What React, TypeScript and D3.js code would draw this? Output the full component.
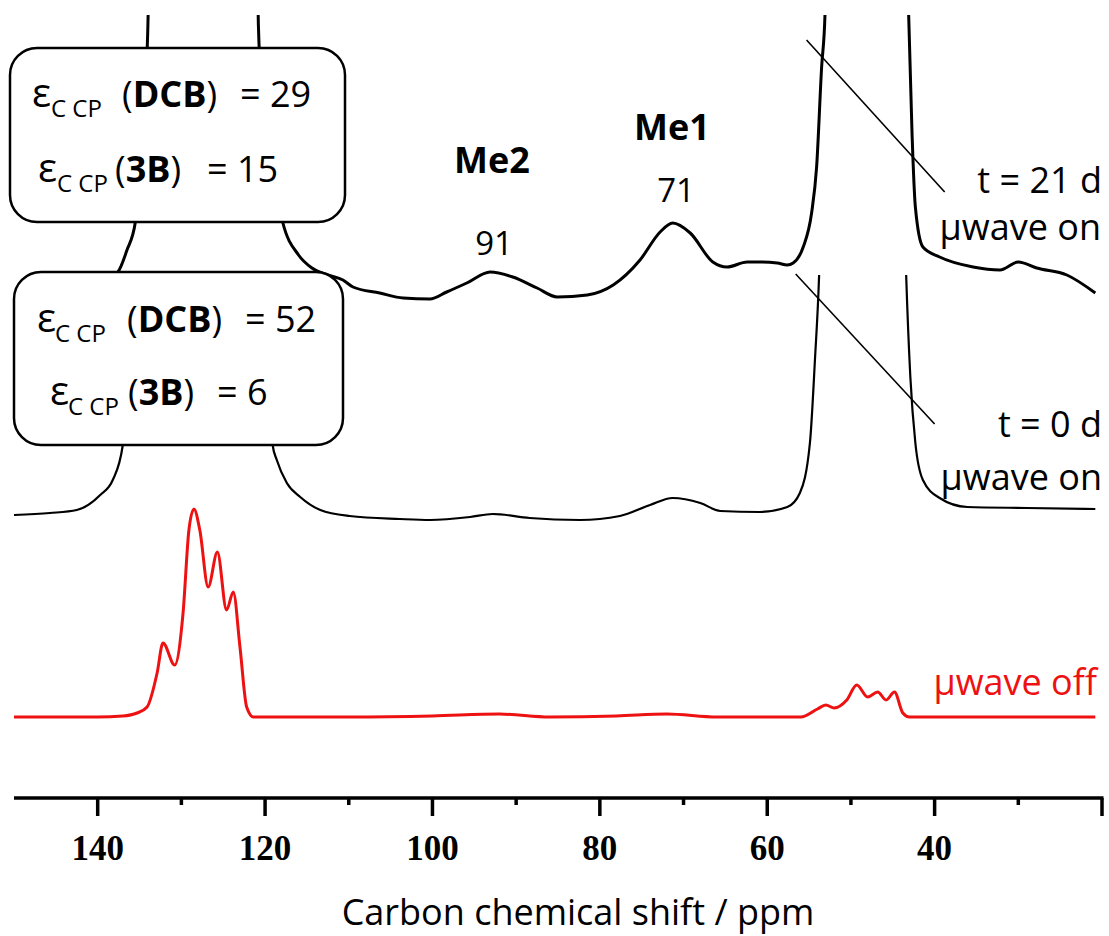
import React from "react";
import * as d3 from "d3";

const width = 1109;
const height = 936;

// axis
const ppmDomain = [150, 20];
const majorTicks = [140, 120, 100, 80, 60, 40, 20];
const tickLabels = ["140", "120", "100", "80", "60", "40", ""];
const minorTicks = [130, 110, 90, 70, 50, 30];

// vertical stacking offsets of the spectra (a.u.)
const offsets = { off: 0, day0: 40, day21: 84 };

// [ppm, intensity a.u.]  -- t = 21 d, uwave on
const day21 = [
  [150, 0.8], [145, 1.2], [141, 3], [139, 4.4], [137.6, 5.6], [136.5, 10], [135.5, 15.6],
  [134.6, 35], [134.0, 55], [133.7, 80], [121.0, 80], [120.8, 55], [120.3, 40], [119, 25],
  [117.9, 15.6], [116, 9], [114.4, 6.4], [112.5, 5], [110.7, 4], [109.5, 2.6], [106.3, 1.4],
  [103.5, 0.4], [100.3, 0.2], [98.3, 1.6], [95.9, 3.4], [93.1, 5.6], [90.4, 4.6], [87.5, 2.4],
  [85.1, 0.6], [81.5, 1], [78.4, 3], [75.2, 8], [72.8, 13.6], [71.3, 15.4], [69.2, 13.4],
  [66.5, 7.6], [64.8, 6.6], [62.4, 7.6], [60.9, 7.6], [58.8, 7.4], [57.6, 7], [56.9, 7.4],
  [55.7, 10.6], [54.7, 17.4], [54.1, 26.6], [53.5, 46.6], [53.1, 57], [52.8, 80], [43.4, 80],
  [43.1, 57], [42.7, 33.4], [42.3, 18.6], [41.4, 10.6], [39.4, 8.6], [35.4, 6.6], [32.2, 6],
  [30, 7.6], [27.8, 6.4], [24.2, 5], [20.8, 1.4],
];

// t = 0 d, uwave on
const day0 = [
  [150, 1], [145.7, 1.4], [142.5, 2], [139.7, 5], [138.2, 8], [137.0, 15], [136.2, 28],
  [135.6, 48], [135.3, 60], [120.6, 60], [120.0, 40], [119.4, 22], [119.1, 15], [118.6, 12],
  [117.4, 7.4], [115.8, 4.6], [113.4, 2], [109.9, 0.8], [103.9, 0.2], [100.3, 0], [95.5, 0.6],
  [92.8, 1.2], [88.4, 0.4], [82.4, 0], [77.6, 0.8], [74, 3], [71.3, 4.4], [68, 3.4],
  [65.6, 1.8], [60.9, 1.6], [57.6, 2.6], [56.1, 5.4], [54.9, 15.4], [54.3, 32], [53.8, 49],
  [53.6, 60], [43.6, 60], [43.4, 49], [42.9, 28.6], [42.3, 15.4], [41.4, 8], [39.4, 4.4],
  [36.1, 2.6], [29, 2.4], [20.8, 2.2],
];

// uwave off
const mwOff = [
  [150, 0.6], [140, 0.6], [137, 0.8], [135.3, 1.4], [134.1, 2.6], [132.9, 9.4], [132.2, 15.4],
  [130.8, 11], [129.8, 21.4], [129.1, 38], [128.5, 42.2], [127.8, 38], [126.8, 26.6],
  [125.7, 33.6], [124.6, 22], [123.8, 25.6], [123.0, 14.6], [122.2, 2.6], [121.4, 0.6],
  [110, 0.6], [100, 0.8], [92, 1.2], [86, 0.6], [78, 0.8], [72, 1.2], [66, 0.6], [56, 0.6],
  [54, 2.2], [53, 3], [52, 2.4], [50.5, 4], [49.3, 7], [48, 4.6], [46.8, 5.6], [45.8, 4],
  [44.8, 5.6], [43.8, 1.4], [43, 0.6], [30, 0.6], [20.8, 0.6],
];

// leader lines [ppm, a.u.]
const leader21 = [[55.3, 136], [38.8, 105.6]];
const leader0 = [[56.6, 89.2], [40.0, 59.2]];

const sans = "'Open Sans', 'DejaVu Sans', sans-serif";

const x = d3.scaleLinear().domain(ppmDomain).range([14, 1102]);
const y = d3.scaleLinear().domain([0, 141]).range([720, 15]);
const axisY = 798;

const lineFor = (offset: number) =>
  d3
    .line<number[]>()
    .x((d) => x(d[0]))
    .y((d) => y(d[1] + offset))
    .curve(d3.curveMonotoneX);

const EpsLine = ({ ex, sx, by, paren, val, px, vx }: any) => (
  <text fontFamily={sans} fill="#000">
    <tspan x={ex} y={by} fontSize={40}>ε</tspan>
    <tspan x={sx} y={by + 10} fontSize={24}>C CP</tspan>
    <tspan x={px} y={by} fontSize={36}>(</tspan>
    <tspan fontSize={36} fontWeight="bold">{paren}</tspan>
    <tspan fontSize={36}>)</tspan>
    <tspan x={vx} y={by} fontSize={36}>{val}</tspan>
  </text>
);

export default function App() {
  const l = (offset: number) => lineFor(offset);
  return (
    <svg
      width={width}
      height={height}
      style={{ position: "absolute", left: 0, top: 0, background: "#fff" }}
    >
      <defs>
        <clipPath id="clip21">
          <rect x={0} y={15} width={width} height={height} />
        </clipPath>
        <clipPath id="clip0">
          <rect x={0} y={275} width={width} height={height} />
        </clipPath>
      </defs>
      <rect width={width} height={height} fill="#fff" />

      {/* spectra */}
      <path d={l(offsets.off)(mwOff) as string} fill="none" stroke="#ee1111" strokeWidth={3} />
      <path
        d={l(offsets.day0)(day0) as string}
        fill="none"
        stroke="#000"
        strokeWidth={2.2}
        clipPath="url(#clip0)"
      />
      <path
        d={l(offsets.day21)(day21) as string}
        fill="none"
        stroke="#000"
        strokeWidth={3}
        clipPath="url(#clip21)"
      />

      {/* boxes */}
      <rect x={10} y={48} width={335} height={174} rx={27} fill="#fff" stroke="#000" strokeWidth={2.5} />
      <rect x={14} y={272} width={329} height={173} rx={27} fill="#fff" stroke="#000" strokeWidth={2.5} />
      <EpsLine ex={32} sx={51} by={107} paren="DCB" val="= 29" px={122} vx={240} />
      <EpsLine ex={38} sx={57} by={182} paren="3B" val="= 15" px={115} vx={207} />
      <EpsLine ex={37} sx={55} by={332} paren="DCB" val="= 52" px={127} vx={245} />
      <EpsLine ex={50} sx={68} by={405} paren="3B" val="= 6" px={128} vx={217} />

      {/* leader lines */}
      {[leader21, leader0].map((p, i) => (
        <line
          key={i}
          x1={x(p[0][0])}
          y1={y(p[0][1])}
          x2={x(p[1][0])}
          y2={y(p[1][1])}
          stroke="#000"
          strokeWidth={1.6}
        />
      ))}

      {/* peak labels */}
      <g fontFamily={sans} textAnchor="middle" fill="#000">
        <text x={492} y={173} fontSize={36} fontWeight="bold">Me2</text>
        <text x={672} y={140} fontSize={36} fontWeight="bold">Me1</text>
        <text x={494} y={255} fontSize={33}>91</text>
        <text x={676} y={202} fontSize={33}>71</text>
      </g>
      <g fontFamily={sans} textAnchor="end" fontSize={36}>
        <text x={1102} y={193}>t = 21 d</text>
        <text x={1101} y={240}>µwave on</text>
        <text x={1102} y={437}>t = 0 d</text>
        <text x={1102} y={490}>µwave on</text>
        <text x={1097} y={695} fill="#ee1111">µwave off</text>
      </g>

      {/* axis */}
      <g stroke="#000" strokeWidth={3.5}>
        <line x1={x(ppmDomain[0])} x2={x(ppmDomain[1]) + 1.5} y1={axisY} y2={axisY} />
        {majorTicks.map((t) => (
          <line key={t} x1={x(t)} x2={x(t)} y1={axisY} y2={axisY + 18} />
        ))}
        {minorTicks.map((t) => (
          <line key={t} x1={x(t)} x2={x(t)} y1={axisY} y2={axisY + 7} />
        ))}
      </g>
      <g fontFamily="'Liberation Serif', 'Times New Roman', serif" fontWeight="bold" fontSize={35} textAnchor="middle">
        {majorTicks.map((t, i) => (
          <text key={t} x={x(t)} y={860}>{tickLabels[i]}</text>
        ))}
      </g>
      <text x={578} y={925} fontFamily={sans} fontSize={36} textAnchor="middle">
        Carbon chemical shift / ppm
      </text>
    </svg>
  );
}
